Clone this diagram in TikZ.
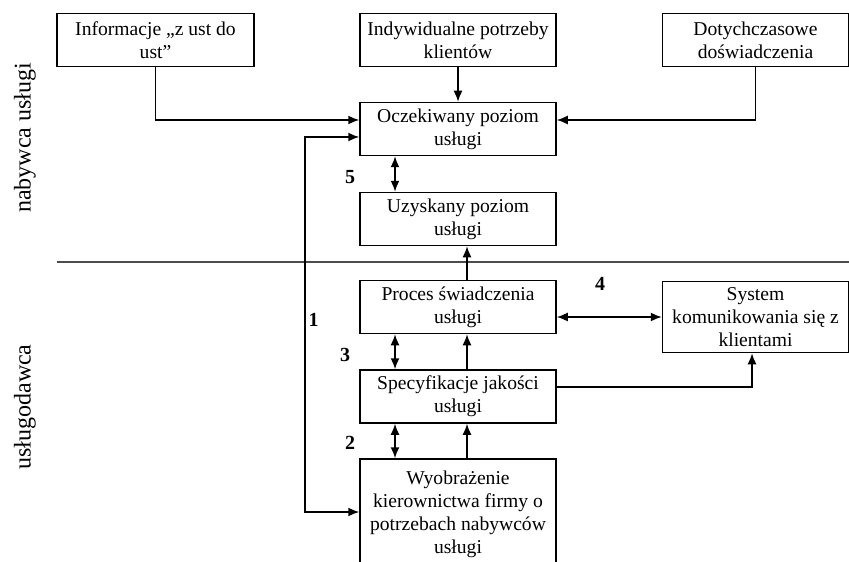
\documentclass[tikz,border=0pt]{standalone}
\usepackage{fontspec}
\setmainfont{Liberation Serif}
\usepackage{tikz}
\usetikzlibrary{arrows.meta}

\tikzset{
    blok/.style={draw, line width=0.75pt, minimum width=98pt, minimum height=26.5pt,
        align=center, inner sep=1pt, font=\fontsize{9.8}{11.5}\selectfont},
    strz/.style={line width=0.8pt, -{Latex[length=5.5pt,width=4.5pt]}},
    dwustrz/.style={line width=0.8pt, {Latex[length=5.5pt,width=4.5pt]}-{Latex[length=5.5pt,width=4.5pt]}},
    nr/.style={font=\fontsize{10}{12}\bfseries\selectfont},
    strona/.style={rotate=90, font=\fontsize{12}{14}\selectfont}
}

\begin{document}
\begin{tikzpicture}[x=0.5pt, y=-0.5pt]
    \useasboundingbox (0,0) rectangle (849,561);

    % Top row
    \node[blok, minimum width=98.5pt] (info) at (155.5,40) {Informacje „z ust do\\ust”};
    \node[blok] (indyw) at (458,40) {Indywidualne potrzeby\\klientów};
    \node[blok, minimum width=93pt] (dotych) at (755.5,40) {Dotychczasowe\\doświadczenia};

    % Middle column
    \node[blok] (oczek) at (458,129) {Oczekiwany poziom\\usługi};
    \node[blok] (uzysk) at (458,219) {Uzyskany poziom\\usługi};
    \node[blok] (proces) at (458,307) {Proces świadczenia\\usługi};
    \node[blok] (spec) at (458,396.5) {Specyfikacje jakości\\usługi};
    \node[blok, minimum height=55pt] (wyobr) at (458,514) {Wyobrażenie\\kierownictwa firmy o\\potrzebach nabywców\\usługi};

    % Right box
    \node[blok, minimum width=93pt, minimum height=35.5pt] (system) at (755.5,317) {System\\komunikowania się z\\klientami};

    % Divider
    \coordinate (granicaL) at (57,262);
    \coordinate (granicaP) at (849,262);
    \draw[line width=1.2pt, black!70] (granicaL) -- (granicaP);
    \node[strona] (nabywca) at (25,138) {nabywca usługi};
    \node[strona] (uslugodawca) at (25,407) {usługodawca};

    % Inputs to expected level
    \draw[strz] (info.south) |- ([yshift=4.5pt]oczek.west);
    \draw[strz] (indyw.south) -- (oczek.north);
    \draw[strz] (dotych.south) |- ([yshift=4.5pt]oczek.east);

    % Gap 1
    \draw[dwustrz] ([yshift=-4pt]oczek.west) -- ++(-54,0) |- ([yshift=1pt]wyobr.west);
    \node[nr] (n1) at (313.5,320) {1};

    % Gaps 5, 3, 2
    \draw[dwustrz] ([xshift=-31.5pt]oczek.south) -- ([xshift=-31.5pt]uzysk.north);
    \draw[dwustrz] ([xshift=-31.5pt]proces.south) -- ([xshift=-31.5pt]spec.north);
    \draw[dwustrz] ([xshift=-31.5pt]spec.south) -- ([xshift=-31.5pt]wyobr.north);
    \node[nr] (n5) at (350,177) {5};
    \node[nr] (n3) at (345,355) {3};
    \node[nr] (n2) at (350,443) {2};

    % Upward flow
    \draw[strz] ([xshift=4.5pt]proces.north) -- ([xshift=4.5pt]uzysk.south);
    \draw[strz] ([xshift=4.5pt]spec.north) -- ([xshift=4.5pt]proces.south);
    \draw[strz] ([xshift=4.5pt]wyobr.north) -- ([xshift=4.5pt]spec.south);

    % Gap 4
    \draw[dwustrz] (system.west -| proces.east) -- (system.west);
    \node[nr] (n4) at (600,284) {4};
    \draw[strz] ([yshift=4.75pt]spec.east) -| ([xshift=-1.75pt]system.south);
\end{tikzpicture}
\end{document}
